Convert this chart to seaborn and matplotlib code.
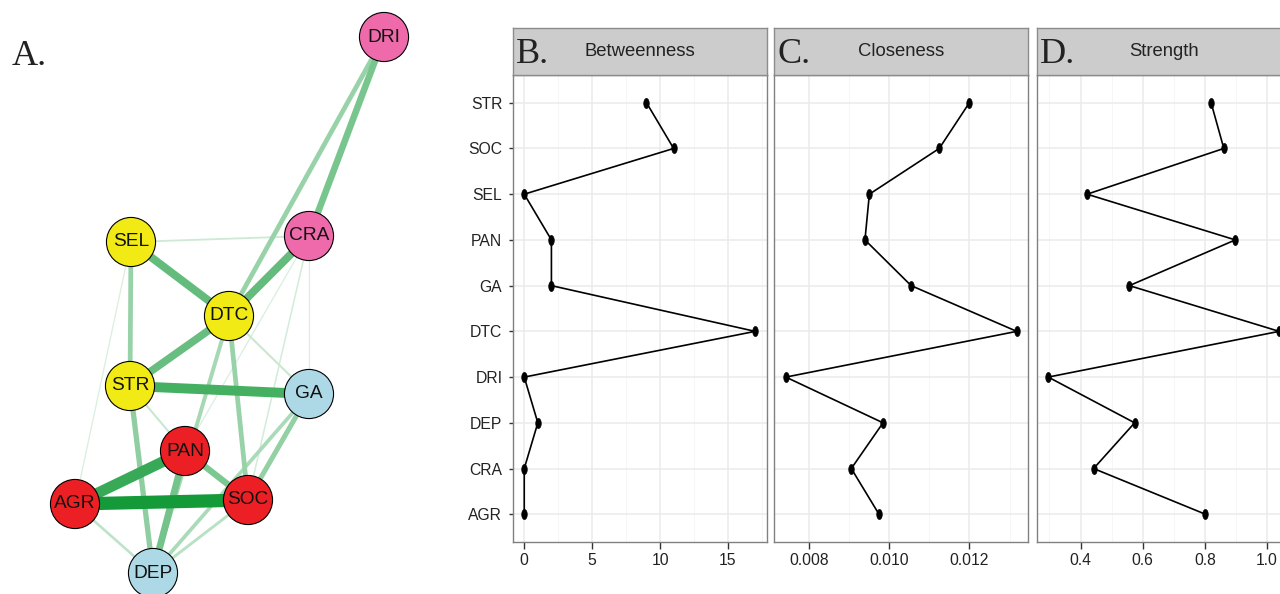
import numpy as np
import pandas as pd
import matplotlib
matplotlib.use("Agg")
import matplotlib.pyplot as plt
from matplotlib.ticker import MultipleLocator, FormatStrFormatter
import matplotlib.colors as mcolors
import seaborn as sns

# centrality data (bottom to top, as in the plot)
nodes = ['AGR', 'CRA', 'DEP', 'DRI', 'DTC', 'GA', 'PAN', 'SEL', 'SOC', 'STR']
betweenness = [0, 0, 1, 0, 17, 2, 2, 0, 11, 9]
closeness = [0.00975, 0.00906, 0.00985, 0.00743, 0.01318, 0.01055, 0.00940, 0.00951, 0.01125, 0.01200]
strength = [0.802, 0.442, 0.574, 0.296, 1.039, 0.557, 0.898, 0.421, 0.861, 0.820]
measures = ['Betweenness', 'Closeness', 'Strength']
panel_letters = ['B.', 'C.', 'D.']

# network layout (pixel positions) and node groups
net_nodes = ['DRI', 'CRA', 'SEL', 'DTC', 'STR', 'GA', 'PAN', 'AGR', 'SOC', 'DEP']
net_x = [384, 309, 131, 229, 130, 309, 185, 75, 248, 153]
net_y = [37, 236, 242, 316, 386, 394, 451, 504, 500, 573]
net_group = ['pink', 'pink', 'yellow', 'yellow', 'yellow', 'blue', 'red', 'red', 'red', 'blue']
group_colors = {'pink': '#EE6AAA', 'yellow': '#F1EA14', 'red': '#EC2024', 'blue': '#ADD8E6'}

# edges: (from, to, weight)
edge_from = ['AGR', 'AGR', 'STR', 'SEL', 'CRA', 'DTC', 'PAN', 'DRI', 'PAN', 'DRI', 'SEL', 'STR',
             'DTC', 'GA', 'DTC', 'GA', 'AGR', 'SOC', 'DTC', 'STR', 'SEL', 'CRA', 'CRA', 'SEL', 'CRA']
edge_to = ['SOC', 'PAN', 'GA', 'DTC', 'DTC', 'STR', 'DEP', 'CRA', 'SOC', 'DTC', 'STR', 'DEP',
           'SOC', 'SOC', 'DEP', 'DEP', 'DEP', 'DEP', 'GA', 'PAN', 'CRA', 'GA', 'SOC', 'AGR', 'PAN']
edge_w = [1.0, 0.82, 0.75, 0.6, 0.6, 0.58, 0.52, 0.5, 0.48, 0.36, 0.36, 0.4,
          0.36, 0.38, 0.3, 0.28, 0.2, 0.22, 0.16, 0.16, 0.14, 0.1, 0.12, 0.1, 0.1]

sns.set_theme(style='white')
plt.rcParams['font.family'] = ['Liberation Sans', 'DejaVu Sans']

fig = plt.figure(figsize=(12.8, 5.94), dpi=100)
W, H = 1280, 594

# ---- A. network ----
ax_net = fig.add_axes([0, 0, 440 / W, 1])
pos = {n: (x, y) for n, x, y in zip(net_nodes, net_x, net_y)}
base = np.array(mcolors.to_rgb('#159A3A'))
order = np.argsort(edge_w)
for i in order:
    w = edge_w[i]
    a = w ** 0.8
    col = base * a + np.ones(3) * (1 - a)
    (x0, y0), (x1, y1) = pos[edge_from[i]], pos[edge_to[i]]
    ax_net.plot([x0, x1], [y0, y1], color=col, lw=9.5 * w, solid_capstyle='butt', zorder=1)
sns.scatterplot(x=net_x, y=net_y, hue=net_group, palette=group_colors, s=1250,
                edgecolor='black', linewidth=0.8, legend=False, ax=ax_net, zorder=3)
for n, x, y in zip(net_nodes, net_x, net_y):
    ax_net.text(x, y, n, ha='center', va='center', fontsize=13.8, color='#111111', zorder=4)
ax_net.set_xlim(0, 440)
ax_net.set_ylim(594, 0)
ax_net.axis('off')
ax_net.text(12, 65, 'A.', fontsize=26, family='Liberation Serif', color='#222222')

# ---- B-D. centrality panels ----
df = pd.DataFrame({'node': nodes * 3,
                   'pos': list(range(1, 11)) * 3,
                   'value': betweenness + closeness + strength,
                   'measure': np.repeat(measures, len(nodes))})

lefts = [512.7, 774.3, 1036.7]
pw = 254
top, bottom = 75.3, 541.7
strip_top = 27.7
majors = [5, 0.002, 0.2]
minors = [2.5, 0.001, 0.1]
fmts = ['%d', '%.3f', '%.1f']

theta = np.linspace(0, 2 * np.pi, 40)
dot = list(zip(0.55 * np.cos(theta), np.sin(theta)))

for k, m in enumerate(measures):
    sub = df[df['measure'] == m]
    ax = fig.add_axes([lefts[k] / W, 1 - bottom / H, pw / W, (bottom - top) / H])
    ax.set_facecolor('white')
    sns.lineplot(data=sub, x='value', y='pos', sort=False, estimator=None,
                 color='black', lw=1.2, ax=ax, zorder=3)
    sns.scatterplot(data=sub, x='value', y='pos', marker=dot, s=52, color='black',
                    edgecolor='black', linewidth=0.5, ax=ax, zorder=4)
    lo, hi = sub['value'].min(), sub['value'].max()
    pad = 0.05 * (hi - lo)
    ax.set_xlim(lo - pad, hi + pad)
    ax.set_ylim(0.4, 10.6)
    ax.xaxis.set_major_locator(MultipleLocator(majors[k]))
    ax.xaxis.set_minor_locator(MultipleLocator(minors[k]))
    ax.xaxis.set_major_formatter(FormatStrFormatter(fmts[k]))
    ax.set_yticks(range(1, 11))
    if k == 0:
        ax.set_yticklabels(nodes)
    else:
        ax.set_yticklabels([])
    ax.grid(True, which='major', color='#EBEBEB', lw=1.1)
    ax.grid(True, which='minor', axis='x', color='#F5F5F5', lw=0.6)
    ax.set_axisbelow(True)
    ax.set_xlabel('')
    ax.set_ylabel('')
    for s in ax.spines.values():
        s.set_color('#808080')
        s.set_linewidth(1.0)
    ax.tick_params(axis='x', which='major', length=5, width=1, color='#333333',
                   labelsize=11.3, labelcolor='#222222', pad=3, bottom=True)
    ax.tick_params(axis='y', which='major', length=3 if k == 0 else 0, width=1,
                   color='#333333', labelsize=11.3, labelcolor='#222222', pad=4.5, left=True)
    ax.tick_params(which='minor', length=0)

    # strip header
    sax = fig.add_axes([lefts[k] / W, 1 - top / H, pw / W, (top - strip_top) / H])
    sax.set_facecolor('#CCCCCC')
    sax.set_xticks([])
    sax.set_yticks([])
    sax.set_xlim(0, 1)
    sax.set_ylim(0, 1)
    for s in sax.spines.values():
        s.set_color('#8C8C8C')
        s.set_linewidth(1.0)
    sax.text(0.5, 0.41, m, ha='center', va='baseline', fontsize=13.3, color='#222222')
    sax.text(0.014, 0.265, panel_letters[k], ha='left', va='baseline', fontsize=26,
             family='Liberation Serif', color='#222222')

fig.savefig('out.png', dpi=100)
